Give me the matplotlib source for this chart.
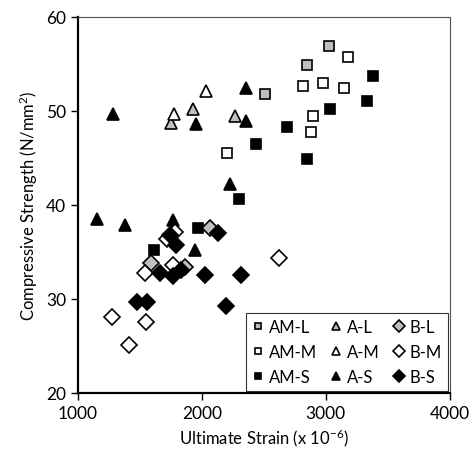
import numpy as np
import matplotlib
matplotlib.use('Agg')
from matplotlib import pyplot as plt

plt.rcParams['font.family'] = ['Lato', 'DejaVu Sans']
plt.rcParams['mathtext.fontset'] = 'custom'
plt.rcParams['mathtext.rm'] = 'Lato'
plt.rcParams['mathtext.it'] = 'Lato:italic'

# data: (ultimate strain x1e-6, compressive strength N/mm2)
am_l_x = [3025, 2845, 2512]
am_l_y = [56.9, 54.9, 51.8]

am_m_x = [3178, 2816, 2974, 3148, 2896, 2877, 2201]
am_m_y = [55.7, 52.6, 52.9, 52.4, 49.4, 47.7, 45.5]

am_s_x = [3384, 3335, 3030, 2684, 2850, 2434, 2303, 1970, 1618]
am_s_y = [53.7, 51.0, 50.2, 48.3, 44.9, 46.5, 40.6, 37.5, 35.2]

a_l_x = [1754, 1928, 2266]
a_l_y = [48.7, 50.2, 49.4]

a_m_x = [2035, 1772]
a_m_y = [52.1, 49.7]

a_s_x = [1284, 2357, 1952, 2357, 2223, 1155, 1381, 1767, 1941]
a_s_y = [49.6, 52.4, 48.6, 48.9, 42.2, 38.5, 37.8, 38.4, 35.2]

b_l_x = [2062, 1593, 1860]
b_l_y = [37.5, 33.8, 33.4]

b_m_x = [1276, 1410, 1547, 2620, 1539, 1767, 1786, 1720]
b_m_y = [28.1, 25.1, 27.5, 34.3, 32.8, 33.6, 37.1, 36.4]

b_s_x = [1477, 1558, 2196, 2022, 2317, 2134, 1790, 1745, 1660, 1767, 1834]
b_s_y = [29.7, 29.7, 29.2, 32.5, 32.5, 37.0, 35.7, 36.8, 32.7, 32.4, 33.1]

GREY = '#bfbfbf'

series = [
    ('AM-L', am_l_x, am_l_y, 's', GREY),
    ('AM-M', am_m_x, am_m_y, 's', 'white'),
    ('AM-S', am_s_x, am_s_y, 's', 'black'),
    ('A-L', a_l_x, a_l_y, '^', GREY),
    ('A-M', a_m_x, a_m_y, '^', 'white'),
    ('A-S', a_s_x, a_s_y, '^', 'black'),
    ('B-L', b_l_x, b_l_y, 'D', GREY),
    ('B-M', b_m_x, b_m_y, 'D', 'white'),
    ('B-S', b_s_x, b_s_y, 'D', 'black'),
]
sizes = {'s': 6.5, '^': 8.5, 'D': 8.5}

fig = plt.figure(figsize=(4.72, 4.64), dpi=100)
ax = fig.add_axes([0.165, 0.151, 0.788, 0.811])

for name, xs, ys, mk, fc in series:
    ax.plot(xs, ys, linestyle='none', marker=mk, markersize=sizes[mk],
            markerfacecolor=fc, markeredgecolor='black', markeredgewidth=1.2,
            label=name)

ax.set_xlim(1000, 4000)
ax.set_ylim(20, 60)
ax.set_xticks([1000, 2000, 3000, 4000])
ax.set_yticks([20, 30, 40, 50, 60])
ax.tick_params(direction='out', length=5, width=1, labelsize=12.5, colors='black')

ax.spines['left'].set_linewidth(1.6)
ax.spines['bottom'].set_linewidth(1.6)
ax.spines['top'].set_color('#555555')
ax.spines['right'].set_color('#555555')
ax.spines['top'].set_linewidth(0.8)
ax.spines['right'].set_linewidth(0.8)

ax.set_xlabel('Ultimate Strain (x 10$^{-6}$)', fontsize=12)
ax.set_ylabel('Compressive Strength (N/mm$^{2}$)', fontsize=12)

leg = ax.legend(ncol=3, loc='lower right', bbox_to_anchor=(0.995, 0.005),
                fontsize=12, frameon=True, fancybox=False, handlelength=0.7,
                handletextpad=0.3, columnspacing=0.8, labelspacing=0.55,
                borderpad=0.35, borderaxespad=0.0, markerscale=0.7)
leg.get_frame().set_edgecolor('black')
leg.get_frame().set_linewidth(0.8)

fig.savefig('out.png', dpi=100)
